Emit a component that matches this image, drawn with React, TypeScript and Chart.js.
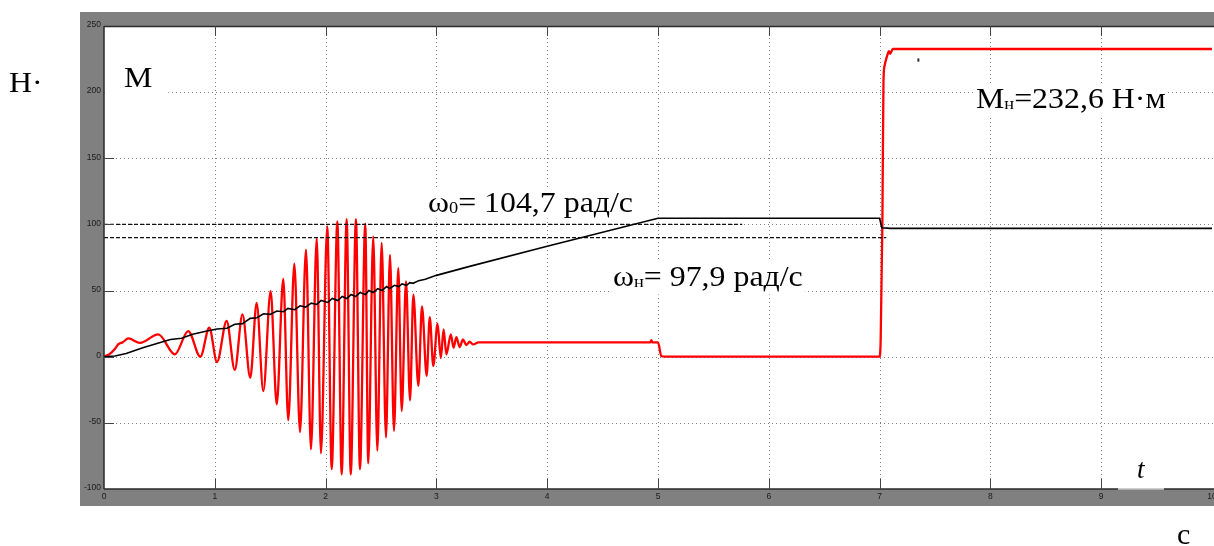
import React, { useEffect, useRef } from "react";
import { Chart, registerables } from "chart.js";

Chart.register(...registerables);

// ---- data ----
const X_TICKS = [0, 1, 2, 3, 4, 5, 6, 7, 8, 9, 10];
const Y_TICKS = [-100, -50, 0, 50, 100, 150, 200, 250];

// Torque M (red)
const TIME_M = [
  0, 0.05, 0.1, 0.13, 0.17, 0.22, 0.325, 0.49, 0.64, 0.76, 0.87, 0.95, 1.02, 1.107, 1.18, 1.25, 1.32,
  1.378, 1.438, 1.504, 1.559, 1.618, 1.663, 1.718, 1.769, 1.823, 1.868, 1.92, 1.958, 2.015, 2.055,
  2.106, 2.145, 2.19, 2.227, 2.274, 2.31, 2.358, 2.385, 2.43, 2.467, 2.506, 2.545, 2.581, 2.617,
  2.656, 2.687, 2.726, 2.762, 2.792, 2.837, 2.87, 2.912, 2.94, 2.972, 3.01, 3.04, 3.065, 3.09, 3.13,
  3.155, 3.18, 3.21, 3.24, 3.27, 3.3, 3.33, 3.38, 4.93, 4.94, 4.95, 5.0, 5.03, 5.06, 7.0, 7.01,
  7.025, 7.035, 7.045, 7.07, 7.085, 7.095, 7.12, 10,
];
const M_VALUES = [
  0, 2, 6, 9.5, 11, 13.8, 10.5, 16.9, 1.8, 19.4, 0, 21.9, -4, 27, -10, 32, -16,
  40.7, -26, 49.5, -36, 58.8, -48, 70.4, -57, 81, -70, 89.7, -73, 98.5, -85,
  102.3, -89, 104, -89, 104, -85, 100.5, -80.6, 91, -71, 86, -61, 77, -56,
  67, -41, 57, -33, 47, -22, 38, -14.5, 30, -7, 25, -1, 20.6, 1.8, 16.9,
  6.8, 14.8, 7.3, 13, 8.8, 11.3, 9.3, 10.8, 10.8, 12.5, 10.8, 10.8, 0.5, 0, 0, 14,
  100, 208, 220, 228, 231, 229, 232.6, 232.6,
];

// Speed ω (black)
const TIME_W = [
  0, 0.1, 0.2, 0.35, 0.5, 0.6, 0.7, 0.8, 0.93, 1.02, 1.11, 1.18, 1.25, 1.32, 1.38, 1.44, 1.5, 1.56,
  1.62, 1.66, 1.72, 1.77, 1.82, 1.87, 1.92, 1.96, 2.02, 2.06, 2.11, 2.15, 2.19, 2.23, 2.27, 2.31,
  2.36, 2.39, 2.43, 2.47, 2.51, 2.55, 2.58, 2.62, 2.66, 2.69, 2.73, 2.76, 2.79, 2.84, 2.9, 3.0, 3.3,
  4.0, 5.0, 7.0, 7.02, 7.1, 10,
];
const W_VALUES = [
  0, 0.5, 2.5, 6.8, 10.5, 13, 14, 17, 19.4, 21, 21.5, 24.5, 25, 29, 29.5, 32.5, 32, 34.5,
  34, 36.5, 35.5, 38.5, 37.5, 40.5, 39.5, 42.5, 41, 44, 42.5, 45.5, 44, 47, 45.5, 48.5,
  47, 50, 48.5, 51.5, 50, 53, 51.5, 54, 53, 55, 54, 56, 55.5, 57.5, 58.5, 61.5, 68.3,
  83.5, 104.7, 104.7, 97.5, 97, 97,
];

// dashed reference lines
const W0_REF_T = [0, 5.76];
const W0_REF = [100, 100];
const WN_REF_T = [0, 7.06];
const WN_REF = [90, 90];

// small artefact mark
const BLIP_T = [7.35, 7.35];
const BLIP_V = [223, 225.5];

const pts = (xs: number[], ys: number[]) => xs.map((x, i) => ({ x, y: ys[i] }));

type Part = { text: string; sub?: boolean };

function drawRich(
  ctx: CanvasRenderingContext2D,
  parts: Part[],
  x: number,
  baseline: number,
  size: number,
  opts: { italic?: boolean; stretch?: number; bg?: [number, number, number, number] } = {}
) {
  const fam = '"Liberation Serif", "Times New Roman", serif';
  const subSize = Math.round(size * 0.56);
  const sx = opts.stretch ?? 1;
  const fontFor = (p: Part) => `${opts.italic ? "italic " : ""}${p.sub ? subSize : size}px ${fam}`;
  let w = 0;
  for (const p of parts) {
    ctx.font = fontFor(p);
    w += ctx.measureText(p.text).width;
  }
  w *= sx;
  if (opts.bg) {
    const [pl, pt, pr, pb] = opts.bg;
    ctx.fillStyle = "#ffffff";
    ctx.fillRect(x - pl, baseline - size * 0.78 - pt, w + pl + pr, size * 0.78 + pt + size * 0.22 + pb);
  }
  ctx.save();
  ctx.translate(x, baseline);
  ctx.scale(sx, 1);
  ctx.fillStyle = "#000000";
  ctx.textBaseline = "alphabetic";
  ctx.textAlign = "left";
  let cx = 0;
  for (const p of parts) {
    ctx.font = fontFor(p);
    ctx.fillText(p.text, cx, p.sub ? 1 : 0);
    cx += ctx.measureText(p.text).width;
  }
  ctx.restore();
}

const framePlugin = {
  id: "matlabFrame",
  beforeDraw(chart: any) {
    const ctx: CanvasRenderingContext2D = chart.ctx;
    const { left, top, right, bottom } = chart.chartArea;
    const xs = chart.scales.x;
    const ys = chart.scales.y;
    ctx.save();
    ctx.fillStyle = "#ffffff";
    ctx.fillRect(0, 0, chart.width, chart.height);
    ctx.fillStyle = "#808080";
    ctx.fillRect(left - 24, top - 14, chart.width - (left - 24), bottom - top + 31);
    ctx.fillStyle = "#ffffff";
    ctx.fillRect(left, top, right - left + 4, bottom - top);

    // dotted grid
    ctx.strokeStyle = "rgba(0,0,0,0.5)";
    ctx.lineWidth = 1;
    ctx.setLineDash([1, 3]);
    for (const v of X_TICKS) {
      if (v === X_TICKS[0] || v === X_TICKS[X_TICKS.length - 1]) continue;
      const px = Math.round(xs.getPixelForValue(v)) + 0.5;
      ctx.beginPath();
      ctx.moveTo(px, top);
      ctx.lineTo(px, bottom);
      ctx.stroke();
    }
    for (const v of Y_TICKS) {
      if (v === Y_TICKS[0] || v === Y_TICKS[Y_TICKS.length - 1]) continue;
      const py = Math.round(ys.getPixelForValue(v)) + 0.5;
      ctx.beginPath();
      ctx.moveTo(left, py);
      ctx.lineTo(right + 4, py);
      ctx.stroke();
    }
    ctx.setLineDash([]);

    // tick labels
    ctx.fillStyle = "#1a1a1a";
    ctx.font = '8.5px "Liberation Sans", Arial, sans-serif';
    ctx.textAlign = "right";
    ctx.textBaseline = "middle";
    for (const v of Y_TICKS) {
      ctx.fillText(String(v), left - 3, ys.getPixelForValue(v) - 1);
    }
    ctx.textAlign = "center";
    ctx.textBaseline = "top";
    for (const v of X_TICKS) {
      ctx.fillText(String(v), xs.getPixelForValue(v), bottom + 3);
    }
    ctx.restore();
  },
  afterDatasetsDraw(chart: any) {
    const ctx: CanvasRenderingContext2D = chart.ctx;
    const { left, top, right, bottom } = chart.chartArea;
    const xs = chart.scales.x;
    const ys = chart.scales.y;
    ctx.save();
    // axis box lines
    ctx.strokeStyle = "#2a2a2a";
    ctx.lineWidth = 1.5;
    ctx.beginPath();
    ctx.moveTo(left, top);
    ctx.lineTo(left, bottom);
    ctx.stroke();
    ctx.beginPath();
    ctx.moveTo(left, top + 0.5);
    ctx.lineTo(right + 4, top + 0.5);
    ctx.stroke();
    ctx.beginPath();
    ctx.moveTo(left, bottom);
    ctx.lineTo(1118, bottom);
    ctx.moveTo(1164, bottom);
    ctx.lineTo(right + 4, bottom);
    ctx.stroke();
    ctx.strokeStyle = "#c0c0c0";
    ctx.beginPath();
    ctx.moveTo(1118, bottom);
    ctx.lineTo(1164, bottom);
    ctx.stroke();

    // inner ticks
    ctx.strokeStyle = "#444";
    ctx.lineWidth = 1;
    for (const v of X_TICKS) {
      if (v === X_TICKS[0] || v === X_TICKS[X_TICKS.length - 1]) continue;
      const px = Math.round(xs.getPixelForValue(v)) + 0.5;
      ctx.beginPath();
      ctx.moveTo(px, top);
      ctx.lineTo(px, top + 10);
      ctx.moveTo(px, bottom);
      ctx.lineTo(px, bottom - 10);
      ctx.stroke();
    }
    for (const v of Y_TICKS) {
      if (v === Y_TICKS[0] || v === Y_TICKS[Y_TICKS.length - 1]) continue;
      const py = Math.round(ys.getPixelForValue(v)) + 0.5;
      ctx.beginPath();
      ctx.moveTo(left, py);
      ctx.lineTo(left + 10, py);
      ctx.stroke();
    }

    // annotations
    const S = 29.5;
    const ST = 1.08;
    drawRich(ctx, [{ text: "Н·" }], 9, 92, S, { stretch: ST });
    drawRich(ctx, [{ text: "М" }], 124, 87, S, { stretch: ST, bg: [19, 4, 16, 4] });
    drawRich(ctx, [{ text: "М" }, { text: "н", sub: true }, { text: "=232,6 Н·м" }], 976, 108, S, {
      stretch: ST,
      bg: [1, 2, 2, 2],
    });
    drawRich(ctx, [{ text: "ω" }, { text: "0", sub: true }, { text: "= 104,7 рад/с" }], 428, 212, S, {
      stretch: ST,
      bg: [2, 2, 2, 0],
    });
    drawRich(ctx, [{ text: "ω" }, { text: "н", sub: true }, { text: "= 97,9 рад/с" }], 613, 286, S, {
      stretch: ST,
      bg: [2, 2, 2, 2],
    });
    drawRich(ctx, [{ text: "t" }], 1137, 478, 27, { italic: true });
    drawRich(ctx, [{ text: "с" }], 1177, 544, 30);
    ctx.restore();
  },
};

export default function App() {
  const ref = useRef<HTMLCanvasElement | null>(null);
  useEffect(() => {
    if (!ref.current) return;
    const chart = new Chart(ref.current, {
      type: "line",
      data: {
        datasets: [
          {
            label: "ω",
            data: pts(TIME_W, W_VALUES),
            borderColor: "#000000",
            borderWidth: 1.6,
            pointRadius: 0,
            tension: 0,
            order: 0,
          },
          {
            label: "ω0 ref",
            data: pts(W0_REF_T, W0_REF),
            borderColor: "#111111",
            borderWidth: 1.2,
            borderDash: [4, 2],
            pointRadius: 0,
            order: 1,
          },
          {
            label: "ωн ref",
            data: pts(WN_REF_T, WN_REF),
            borderColor: "#111111",
            borderWidth: 1.2,
            borderDash: [4, 2],
            pointRadius: 0,
            order: 1,
          },
          {
            label: "blip",
            data: pts(BLIP_T, BLIP_V),
            borderColor: "#333333",
            borderWidth: 2,
            pointRadius: 0,
            order: 1,
          },
          {
            label: "M",
            data: pts(TIME_M, M_VALUES),
            borderColor: "#ff0000",
            borderWidth: 2.3,
            pointRadius: 0,
            cubicInterpolationMode: "monotone",
            order: 2,
          },
        ],
      },
      options: {
        animation: false,
        responsive: false,
        maintainAspectRatio: false,
        parsing: true,
        layout: { padding: { left: 104, top: 26, right: 2, bottom: 57 } },
        plugins: { legend: { display: false }, tooltip: { enabled: false } },
        scales: {
          x: { type: "linear", min: 0, max: 10, display: false },
          y: { type: "linear", min: -100, max: 250, display: false },
        },
      },
      plugins: [framePlugin],
    });
    return () => chart.destroy();
  }, []);
  return (
    <div style={{ position: "fixed", left: 0, top: 0, width: 1214, height: 546, background: "#fff" }}>
      <canvas ref={ref} width={1214} height={546} style={{ display: "block" }} />
    </div>
  );
}
